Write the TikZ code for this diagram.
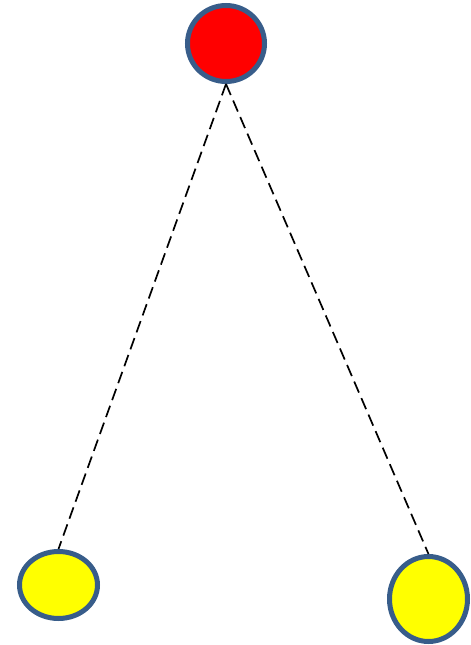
\documentclass[tikz,border=0pt]{standalone}
\usepackage{tikz}
\usetikzlibrary{shapes.geometric}
\definecolor{rim}{RGB}{56, 93, 138}
\definecolor{sun}{RGB}{255, 255, 0}
\definecolor{apple}{RGB}{255, 0, 0}

\tikzset{
  ball/.style  = {ellipse, draw = rim, line width = 5pt, inner sep = 0pt},
  string/.style = {line width = 1.7pt, dash pattern = on 12pt off 6pt}
}

\begin{document}
\begin{tikzpicture}[x=1pt, y=-1pt]
  \useasboundingbox (0,0) rectangle (471,645);

  % pivot and the two weights
  \node[
    ball,
    fill           = apple,
    minimum width  = 77pt,
    minimum height = 76pt
  ] (top) at (226,43.5) {};
  \node[
    ball,
    fill           = sun,
    minimum width  = 78pt,
    minimum height = 67pt
  ] (left) at (58.5,585) {};
  \node[
    ball,
    fill           = sun,
    minimum width  = 78pt,
    minimum height = 85pt
  ] (right) at (428.5,599) {};

  % strings
  \draw[string] (top.south) -- (left.north);
  \draw[string] (top.south) -- (right.north);
\end{tikzpicture}
\end{document}
